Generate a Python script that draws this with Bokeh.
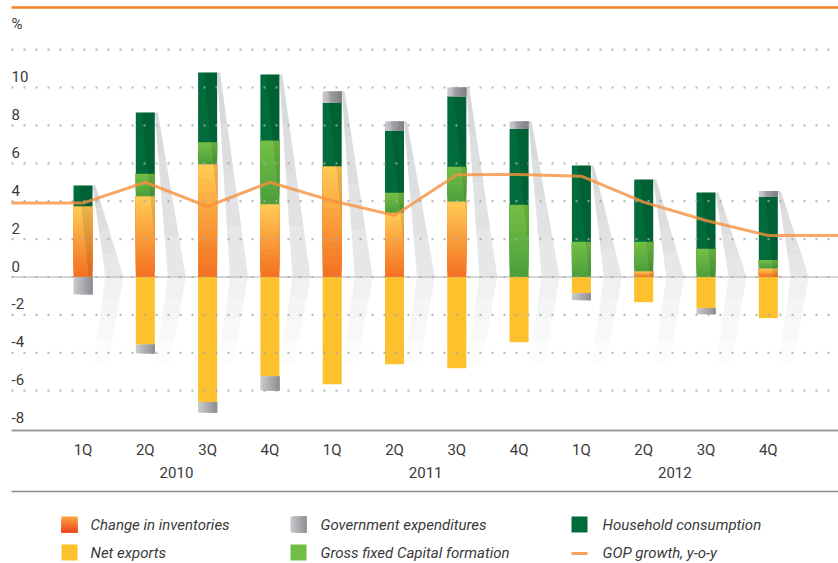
import numpy as np
from bokeh.plotting import figure
from bokeh.models import Range1d
from bokeh.core.properties import value
from bokeh.embed import file_html
from bokeh.resources import INLINE

# ---------------- data ----------------
quarters = ["1Q", "2Q", "3Q", "4Q", "1Q", "2Q", "3Q", "4Q", "1Q", "2Q", "3Q", "4Q"]
years = ["2010", "2011", "2012"]
inventories = [3.74, 4.26, 5.95, 3.84, 5.85, 3.39, 3.98, 0.0, 0.0, 0.30, 0.0, 0.45]
gfcf = [0.0, 1.19, 1.16, 3.36, 0.0, 1.05, 1.84, 3.81, 1.86, 1.56, 1.49, 0.45]
household = [1.09, 3.23, 3.68, 3.49, 3.34, 3.27, 3.72, 4.01, 4.02, 3.29, 2.97, 3.32]
government = [-0.91, -0.44, -0.56, -0.74, 0.60, 0.50, 0.46, 0.39, -0.35, 0.0, -0.30, 0.32]
net_exports = [0.0, -3.58, -6.59, -5.25, -5.66, -4.60, -4.81, -3.44, -0.87, -1.33, -1.66, -2.17]
gdp = [3.90, 5.00, 3.72, 5.00, 4.02, 3.25, 5.39, 5.41, 5.32, 3.95, 2.98, 2.19]
y_tick_labels = [10, 8, 6, 4, 2, 0, -2, -4, -6, -8]
grid_values = [12, 10, 8, 6, 4, 2, 0, -2, -4, -6]
legend_labels = ["Change in inventories", "Net exports", "Government expenditures",
                 "Gross fixed Capital formation", "Household consumption", "GOP growth, y-o-y"]

# ---------------- layout ----------------
W, H = 838, 563
PXX, PXY = 62.3, 18.95          # pixels per unit
X0S, Y0S = 82.5, 276.5          # screen position of first bar / zero
def fx(sx):                     # screen px -> data x
    return (sx - X0S) / PXX
def fy(sy):                     # screen px -> data y
    return (Y0S - sy) / PXY
def dx(px):
    return px / PXX
def dy(px):
    return px / PXY

x_start, x_end = fx(0), fx(W)
y_end, y_start = fy(0), fy(H)

p = figure(width=W, height=H, x_range=Range1d(x_start, x_end), y_range=Range1d(y_start, y_end),
           output_backend="svg", toolbar_location=None, min_border=0,
           x_axis_type=None, y_axis_type=None, outline_line_color=None,
           background_fill_color="white", border_fill_color="white")
p.title.visible = False

FONT = value("Roboto")
TXT = "#3a3a3a"

n = len(quarters)
xs = np.arange(n, dtype=float)
BW = 19 / PXX

inv = np.array(inventories); gf = np.array(gfcf); hh = np.array(household)
gov = np.array(government); ne = np.array(net_exports)
gf_b = inv; gf_t = inv + gf
hh_b = gf_t; hh_t = gf_t + hh
gov_pos = np.where(gov > 0, gov, 0.0)
stack_top = hh_t + gov_pos

def lerp_color(c1, c2, t):
    a = [int(c1[i:i + 2], 16) for i in (1, 3, 5)]
    b = [int(c2[i:i + 2], 16) for i in (1, 3, 5)]
    return "#%02x%02x%02x" % tuple(int(round(a[k] + (b[k] - a[k]) * t)) for k in range(3))

# ---------------- chevron shadows ----------------
for i in range(n):
    xr = xs[i] + BW / 2
    T = stack_top[i]
    steps = 4
    for k in range(steps):
        t0, t1 = k / steps, (k + 1) / steps
        l0 = (xr + dx(13) * t0, T * (1 - t0)); l1 = (xr + dx(13) * t1, T * (1 - t1))
        r0 = (xr + dx(3) + dx(28) * t0, T * (1 - t0)); r1 = (xr + dx(3) + dx(28) * t1, T * (1 - t1))
        p.patch([l0[0], r0[0], r1[0], l1[0]], [l0[1], r0[1], r1[1], l1[1]],
                fill_color="#c9cacd", fill_alpha=0.72 - 0.35 * t0, line_color=None)
    for k in range(steps):
        t0, t1 = k / steps, (k + 1) / steps
        l0 = (xr + dx(13) - dx(12) * t0, -dy(85) * t0); l1 = (xr + dx(13) - dx(12) * t1, -dy(85) * t1)
        r0 = (xr + dx(31) - dx(15) * t0, -dy(85) * t0); r1 = (xr + dx(31) - dx(15) * t1, -dy(85) * t1)
        p.patch([l0[0], r0[0], r1[0], l1[0]], [l0[1], r0[1], r1[1], l1[1]],
                fill_color="#dcdddf", fill_alpha=0.4 * (1 - t0), line_color=None)

# zero line
p.segment(x0=[fx(11)], y0=[0], x1=[x_end], y1=[0], line_color="#c8c8c8", line_width=1.5)

# ---------------- bars ----------------
# net exports (negative)
p.vbar(x=xs, width=BW, top=0, bottom=ne, fill_color="#fdc12e", line_color=None)

# change in inventories (vertical gradient: overlapping slices, no seams)
NS = 16
bl, br, bb, bt, bc = [], [], [], [], []
for i in range(n):
    if inv[i] <= 0:
        continue
    for k in range(NS):
        bl.append(xs[i] - BW / 2); br.append(xs[i] + BW / 2)
        bb.append(inv[i] * k / NS); bt.append(inv[i])
        bc.append(lerp_color("#f36f21", "#ffcc55", (k + 0.5) / NS))
p.quad(left=bl, right=br, top=bt, bottom=bb, fill_color=bc, line_color=None)

# gross fixed capital formation (vertical gradient)
NS2 = 8
gl, gr, gb, gt, gc = [], [], [], [], []
for i in range(n):
    if gf[i] <= 0:
        continue
    for k in range(NS2):
        gl.append(xs[i] - BW / 2); gr.append(xs[i] + BW / 2)
        gb.append(gf_b[i] + gf[i] * k / NS2); gt.append(gf_t[i])
        gc.append(lerp_color("#4c9e3c", "#74c045", (k + 0.5) / NS2))
p.quad(left=gl, right=gr, top=gt, bottom=gb, fill_color=gc, line_color=None)

# household consumption
p.vbar(x=xs, width=BW, top=hh_t, bottom=hh_b, fill_color="#006c3b", line_color=None)

# government expenditures (horizontal gradient)
NS3 = 8
ol, orr, ob, ot, oc = [], [], [], [], []
for i in range(n):
    if gov[i] == 0:
        continue
    if gov[i] > 0:
        b, t = hh_t[i], hh_t[i] + gov[i]
    else:
        b, t = ne[i] + gov[i], ne[i]
    for k in range(NS3):
        ol.append(xs[i] - BW / 2 + BW * k / NS3); orr.append(xs[i] + BW / 2)
        ob.append(b); ot.append(t)
        oc.append(lerp_color("#cbcccf", "#8c8d91", (k + 0.5) / NS3))
p.quad(left=ol, right=orr, top=ot, bottom=ob, fill_color=oc, line_color=None)

# diagonal shading on positive part of bars
for i in range(n):
    T = stack_top[i]
    xl, xr = xs[i] - BW / 2, xs[i] + BW / 2
    xa = xl + 0.3 * BW
    drop = 6.7
    if T - drop >= 0:
        px_ = [xa, xr, xr]; py_ = [T, T, T - drop]
    else:
        xi = xa + (xr - xa) * (T / drop)
        px_ = [xa, xr, xr, xi]; py_ = [T, T, 0, 0]
    p.patch(px_, py_, fill_color="black", fill_alpha=0.1, line_color=None)

# ---------------- dotted grid ----------------
gy = [float(v) for v in grid_values]
p.segment(x0=[fx(11)] * len(gy), y0=gy, x1=[x_end] * len(gy), y1=gy,
          line_color="#a8a8a8", line_alpha=0.8, line_width=2.2, line_dash="2 10")

# ---------------- GDP line ----------------
lx = [fx(11)] + list(xs) + [x_end]
ly = [gdp[0]] + list(gdp) + [gdp[-1]]
p.line(lx, ly, line_color="#f7913e", line_alpha=0.8, line_width=3)

# ---------------- frame lines ----------------
p.segment(x0=[fx(11)], y0=[fy(7)], x1=[x_end], y1=[fy(7)], line_color="#f58220", line_width=2.5)
p.segment(x0=[fx(11)], y0=[fy(430)], x1=[x_end], y1=[fy(430)], line_color="#9b9b9b", line_width=2)
p.segment(x0=[fx(11)], y0=[fy(491)], x1=[x_end], y1=[fy(491)], line_color="#8c8c8c", line_width=1.5)

# ---------------- texts ----------------
p.text(x=[fx(11)] * len(y_tick_labels), y=[float(v) for v in y_tick_labels],
       text=[str(v) for v in y_tick_labels], text_font=FONT, text_font_size="15px",
       text_color=TXT, text_align="left", text_baseline="middle", y_offset=-11)
p.text(x=[fx(11)], y=[12.0], text=["%"], text_font=FONT, text_font_size="15px",
       text_color=TXT, text_align="left", text_baseline="middle", y_offset=-26)

p.text(x=xs, y=[-8.0] * n, text=quarters, text_font=FONT, text_font_size="15px",
       text_color=TXT, text_align="center", text_baseline="middle", y_offset=21)
year_x = [4 * k + 1.5 for k in range(len(years))]
p.text(x=year_x, y=[-8.0] * len(years), text=years, text_font=FONT, text_font_size="15px",
       text_color=TXT, text_align="center", text_baseline="middle", y_offset=44)

# ---------------- legend ----------------
col_sw = [69, 298, 579]
col_tx = [90, 320, 602]
row_y = [524, 552]
pos = [(0, 0), (0, 1), (1, 0), (1, 1), (2, 0), (2, 1)]

def swatch_grad(cx, cy, c_a, c_b, vertical=True, steps=8):
    for k in range(steps):
        t = (k + 0.5) / steps
        if vertical:
            y_top = cy - 8 + 16 * k / steps
            hh_ = 16 - 16 * k / steps
            p.rect(x=[fx(cx)], y=[fy(y_top + hh_ / 2)], width=16, height=hh_,
                   width_units="screen", height_units="screen",
                   fill_color=lerp_color(c_a, c_b, t), line_color=None)
        else:
            x_l = cx - 8 + 16 * k / steps
            ww = 16 - 16 * k / steps
            p.rect(x=[fx(x_l + ww / 2)], y=[fy(cy)], width=ww, height=16,
                   width_units="screen", height_units="screen",
                   fill_color=lerp_color(c_a, c_b, t), line_color=None)

c, r = pos[0]
swatch_grad(col_sw[c], row_y[r], "#f9a63c", "#ee4423", vertical=True)
c, r = pos[1]
p.rect(x=[fx(col_sw[c])], y=[fy(row_y[r])], width=16, height=16, width_units="screen",
       height_units="screen", fill_color="#fdc12e", line_color=None)
c, r = pos[2]
swatch_grad(col_sw[c], row_y[r], "#c8c9cc", "#8e8f93", vertical=False)
c, r = pos[3]
p.rect(x=[fx(col_sw[c])], y=[fy(row_y[r])], width=16, height=16, width_units="screen",
       height_units="screen", fill_color="#70be44", line_color=None)
c, r = pos[4]
p.rect(x=[fx(col_sw[c])], y=[fy(row_y[r])], width=16, height=16, width_units="screen",
       height_units="screen", fill_color="#006c3b", line_color=None)
c, r = pos[5]
p.segment(x0=[fx(col_sw[c] - 8)], y0=[fy(row_y[r] + 1)], x1=[fx(col_sw[c] + 8)], y1=[fy(row_y[r] + 1)],
          line_color="#f7a15c", line_width=3)

p.text(x=[fx(col_tx[c]) for c, r in pos], y=[fy(row_y[r]) for c, r in pos], text=legend_labels,
       text_font=FONT, text_font_size="15px", text_font_style="italic", text_color=TXT,
       text_align="left", text_baseline="middle")

open("out.html", "w").write(file_html(p, INLINE))
